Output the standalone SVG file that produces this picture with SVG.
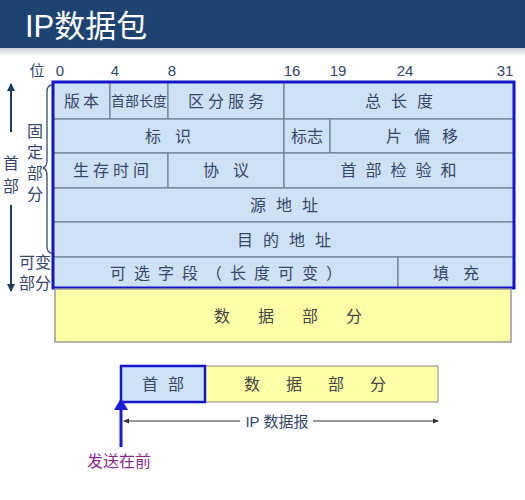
<svg xmlns="http://www.w3.org/2000/svg" width="525" height="500" viewBox="0 0 525 500">
<defs>
<linearGradient id="strip" x1="0" y1="0" x2="0" y2="1">
<stop offset="0" stop-color="#c9ced6"/><stop offset="1" stop-color="#ffffff"/>
</linearGradient>
<marker id="ah" markerWidth="8" markerHeight="8" refX="7" refY="4" orient="auto" markerUnits="userSpaceOnUse">
<path d="M0,0 L8,4 L0,8 z" fill="#1e3a5c"/>
</marker>
<marker id="sm" markerWidth="6" markerHeight="6" refX="5" refY="3" orient="auto" markerUnits="userSpaceOnUse">
<path d="M0,0.5 L6,3 L0,5.5 z" fill="#333"/>
</marker>
<marker id="bh" markerWidth="12" markerHeight="14" refX="6" refY="7" orient="auto" markerUnits="userSpaceOnUse">
<path d="M0,0 L12,7 L0,14 z" fill="#1a1adc"/>
</marker>
</defs>
<style>
text{font-family:"Liberation Sans","Noto Sans CJK SC",sans-serif;}
.cell{fill:#cfe2f5;stroke:#6e7f8f;stroke-width:1.2;}
.t{font-size:16px;fill:#36466a;text-anchor:middle;dominant-baseline:central;}
.bit{font-size:15px;fill:#36466a;text-anchor:middle;}
.lbl{font-size:16px;fill:#36466a;text-anchor:middle;}
.d{fill:#444444;}
</style>
<rect width="525" height="500" fill="#ffffff"/>
<g id="titlebar">
<rect x="0" y="0" width="525" height="48" fill="#1d4471"/>
<rect x="0" y="48" width="525" height="8" fill="url(#strip)"/>
<text x="25" y="37" font-size="31" fill="#ffffff">IP数据包</text>
</g>
<g id="bits">
<text class="bit" x="37" y="76">位</text>
<text class="bit" x="60" y="76">0</text>
<text class="bit" x="115" y="76">4</text>
<text class="bit" x="172" y="76">8</text>
<text class="bit" x="292" y="76">16</text>
<text class="bit" x="338" y="76">19</text>
<text class="bit" x="405" y="76">24</text>
<text class="bit" x="505" y="76">31</text>
</g>
<g id="header-table">
<rect class="cell" x="53" y="82" width="57" height="37"/>
<rect class="cell" x="110" y="82" width="58" height="37"/>
<rect class="cell" x="168" y="82" width="116" height="37"/>
<rect class="cell" x="284" y="82" width="230" height="37"/>
<rect class="cell" x="53" y="119" width="231" height="34"/>
<rect class="cell" x="284" y="119" width="46" height="34"/>
<rect class="cell" x="330" y="119" width="184" height="34"/>
<rect class="cell" x="53" y="153" width="115" height="35"/>
<rect class="cell" x="168" y="153" width="116" height="35"/>
<rect class="cell" x="284" y="153" width="230" height="35"/>
<rect class="cell" x="53" y="188" width="461" height="34"/>
<rect class="cell" x="53" y="222" width="461" height="35"/>
<rect class="cell" x="53" y="257" width="345" height="31"/>
<rect class="cell" x="398" y="257" width="116" height="31"/>
<text class="t" x="83" y="101" letter-spacing="3">版本</text>
<text class="t" x="139" y="101" style="font-size:14px">首部长度</text>
<text class="t" x="228" y="101" letter-spacing="4">区分服务</text>
<text class="t" x="404" y="101" letter-spacing="10">总长度</text>
<text class="t" x="175" y="136" letter-spacing="14">标识</text>
<text class="t" x="307" y="136">标志</text>
<text class="t" x="428" y="136" letter-spacing="12">片偏移</text>
<text class="t" x="113" y="170" letter-spacing="4">生存时间</text>
<text class="t" x="233" y="170" letter-spacing="14">协议</text>
<text class="t" x="403" y="170" letter-spacing="9">首部检验和</text>
<text class="t" x="289" y="205" letter-spacing="10">源地址</text>
<text class="t" x="289" y="240" letter-spacing="10">目的地址</text>
<text class="t" x="230" y="273" letter-spacing="8">可选字段（长度可变）</text>
<text class="t" x="463" y="273" letter-spacing="14">填充</text>
<rect x="53" y="82" width="461" height="206" fill="none" stroke="#1414c8" stroke-width="3"/>
</g>
<g id="data-part">
<rect x="55" y="289" width="456" height="53" fill="#ffffa8" stroke="#9a9a9a" stroke-width="1.5"/>
<text class="t d" x="302" y="316" letter-spacing="28">数据部分</text>
</g>
<g id="side-labels">
<text class="lbl" x="11" y="169">首</text>
<text class="lbl" x="11" y="192">部</text>
<text class="lbl" x="35" y="137">固</text>
<text class="lbl" x="35" y="158">定</text>
<text class="lbl" x="35" y="179">部</text>
<text class="lbl" x="35" y="200">分</text>
<text class="lbl" x="35" y="268">可变</text>
<text class="lbl" x="35" y="289">部分</text>
</g>
<g id="datagram">
<rect x="205" y="366" width="233" height="36" fill="#ffffa8" stroke="#9a9a9a" stroke-width="1.2"/>
<rect x="121" y="366" width="84" height="36" fill="#cfe2f5" stroke="#1414c8" stroke-width="2.5"/>
<text class="t" x="168" y="384" letter-spacing="10">首部</text>
<text class="t d" x="328" y="384" letter-spacing="26">数据部分</text>
<text x="277" y="427" font-size="15" fill="#36466a" text-anchor="middle">IP 数据报</text>
<text x="119" y="467" font-size="16" fill="#8a2c8c" text-anchor="middle">发送在前</text>
</g>
<g id="connectors">
<line x1="11" y1="132" x2="11" y2="84" stroke="#1e3a5c" stroke-width="2" marker-end="url(#ah)"/>
<line x1="11" y1="205" x2="11" y2="291" stroke="#1e3a5c" stroke-width="2" marker-end="url(#ah)"/>
<path d="M52,85 Q47,85 47,92 L47,160 Q47,167 43,168 Q47,169 47,176 L47,246 Q47,253 52,253" fill="none" stroke="#3b4a6b" stroke-width="1.3"/>
<line x1="240" y1="421" x2="124" y2="421" stroke="#333" stroke-width="1" marker-end="url(#sm)"/>
<line x1="313" y1="421" x2="438" y2="421" stroke="#333" stroke-width="1" marker-end="url(#sm)"/>
<line x1="121" y1="447" x2="121" y2="404" stroke="#1a1adc" stroke-width="3" marker-end="url(#bh)"/>
</g>
</svg>
